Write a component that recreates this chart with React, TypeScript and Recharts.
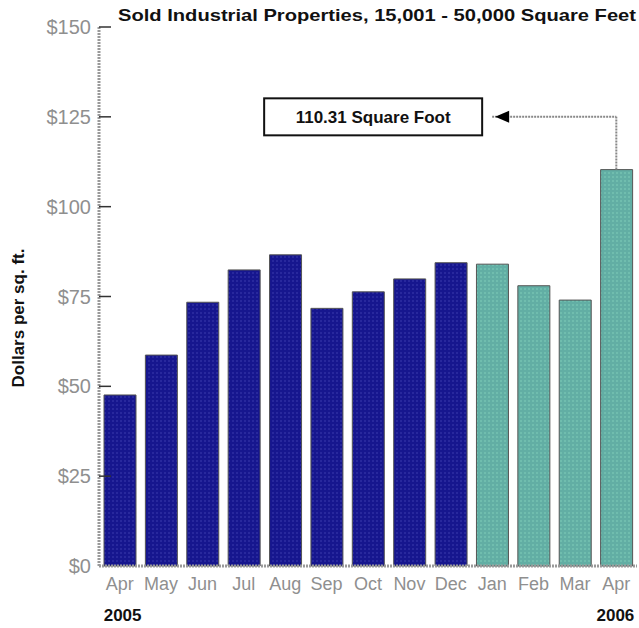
import { BarChart, Bar, XAxis, YAxis, Cell, ReferenceLine, ReferenceDot } from "recharts";

const months = ["Apr", "May", "Jun", "Jul", "Aug", "Sep", "Oct", "Nov", "Dec", "Jan", "Feb", "Mar", "Apr"];
const years = ["2005", "2005", "2005", "2005", "2005", "2005", "2005", "2005", "2005", "2006", "2006", "2006", "2006"];
const prices = [47.6, 58.7, 73.4, 82.4, 86.6, 71.7, 76.3, 79.9, 84.4, 84.0, 78.0, 74.0, 110.31];
const yTicks = [0, 25, 50, 75, 100, 125, 150];
const yearLabels = ["2005", "", "", "", "", "", "", "", "", "", "", "", "2006"];

const title = "Sold Industrial Properties, 15,001 - 50,000 Square Feet";
const calloutText = "110.31 Square Foot";
const calloutLevel = 125;

const data = months.map((m, i) => ({
  key: `${m} ${years[i]}`,
  month: m,
  year: years[i],
  price: prices[i],
}));

const lastKey = data[data.length - 1].key;
const janKey = data[9].key;

const FONT = "'Liberation Sans', Arial, Helvetica, sans-serif";
const TICK_MARGIN = 8;

// y ticks: gray label on the left, short dark mark pointing into the plot
const YTick = (props: any) => {
  const { x, y, payload } = props;
  return (
    <g>
      <text x={x} y={y} dy={7} textAnchor="end" fontSize={20} fill="#8f8f8f" fontFamily={FONT}>
        {`$${payload.value}`}
      </text>
      {payload.value !== 0 && (
        <line x1={x + TICK_MARGIN} x2={x + TICK_MARGIN + 12} y1={y} y2={y} stroke="#333" strokeWidth={1.5} />
      )}
    </g>
  );
};

const XTick = (props: any) => {
  const { x, y, payload, index } = props;
  const row = data[index];
  const isLast = index === data.length - 1;
  return (
    <g>
      <text x={x} y={y} dy={16} textAnchor="middle" fontSize={18} fill="#8f8f8f" fontFamily={FONT}>
        {row ? row.month : payload.value}
      </text>
      {yearLabels[index] && (
        <text
          x={isLast ? x + 18 : x - 16}
          y={y}
          dy={47}
          textAnchor={isLast ? "end" : "start"}
          fontSize={17}
          fontWeight="bold"
          fill="#111"
          fontFamily={FONT}
        >
          {yearLabels[index]}
        </text>
      )}
    </g>
  );
};

// arrow head + boxed label, anchored at the Jan 2006 column on the callout level
const Callout = (props: any) => {
  const { cx, cy } = props;
  const right = cx - 10;
  const w = 218;
  const h = 37;
  return (
    <g>
      <polygon points={`${cx + 3},${cy} ${cx + 17},${cy - 6} ${cx + 17},${cy + 6}`} fill="#000" />
      <rect x={right - w} y={cy - h / 2} width={w} height={h} fill="#fff" stroke="#111" strokeWidth={2} />
      <text x={right - w / 2} y={cy} dy={6} textAnchor="middle" fontSize={17} fontWeight="bold" fill="#111" fontFamily={FONT}>
        {calloutText}
      </text>
    </g>
  );
};

const App = () => {
  return (
    <div style={{ position: "absolute", left: 0, top: 0, background: "#fff" }}>
      <BarChart width={639} height={628} data={data} margin={{ top: 27, right: 2, bottom: 0, left: 0 }}>
        <defs>
          <pattern id="navyDots" width="4" height="4" patternUnits="userSpaceOnUse">
            <rect width="4" height="4" fill="#16168e" />
            <circle cx="1" cy="1" r="0.7" fill="#4848b8" />
          </pattern>
          <pattern id="tealDots" width="4" height="4" patternUnits="userSpaceOnUse">
            <rect width="4" height="4" fill="#62aea4" />
            <circle cx="1" cy="1" r="0.7" fill="#8ad8c0" />
          </pattern>
        </defs>
        <text
          x={118}
          y={21}
          fontSize={17}
          fontWeight="bold"
          fill="#111"
          fontFamily={FONT}
          textLength={518}
          lengthAdjust="spacingAndGlyphs"
        >
          {title}
        </text>
        <XAxis
          dataKey="key"
          height={62}
          interval={0}
          tick={<XTick />}
          tickLine={false}
          axisLine={{ stroke: "#999", strokeWidth: 3, strokeDasharray: "2 1" }}
        />
        <YAxis
          domain={[0, 150]}
          ticks={yTicks}
          width={99}
          tickSize={0}
          tickMargin={TICK_MARGIN}
          tick={<YTick />}
          axisLine={{ stroke: "#999", strokeWidth: 3, strokeDasharray: "2 1" }}
          label={{
            content: () => (
              <text
                x={24}
                y={318}
                transform="rotate(-90 24 318)"
                textAnchor="middle"
                fontSize={17}
                fontWeight="bold"
                fill="#111"
                fontFamily={FONT}
              >
                Dollars per sq. ft.
              </text>
            ),
          }}
        />
        <Bar dataKey="price" barSize={32} stroke="#555" strokeWidth={1} isAnimationActive={false}>
          {data.map((d) => (
            <Cell key={d.key} fill={d.year === "2005" ? "url(#navyDots)" : "url(#tealDots)"} />
          ))}
        </Bar>
        <ReferenceLine
          segment={[
            { x: lastKey, y: prices[prices.length - 1] },
            { x: lastKey, y: calloutLevel },
          ]}
          stroke="#888"
          strokeWidth={2}
          strokeDasharray="2 1"
        />
        <ReferenceLine
          segment={[
            { x: janKey, y: calloutLevel },
            { x: lastKey, y: calloutLevel },
          ]}
          stroke="#888"
          strokeWidth={2}
          strokeDasharray="2 1"
        />
        <ReferenceDot x={janKey} y={calloutLevel} shape={<Callout />} />
      </BarChart>
    </div>
  );
};

export default App;
